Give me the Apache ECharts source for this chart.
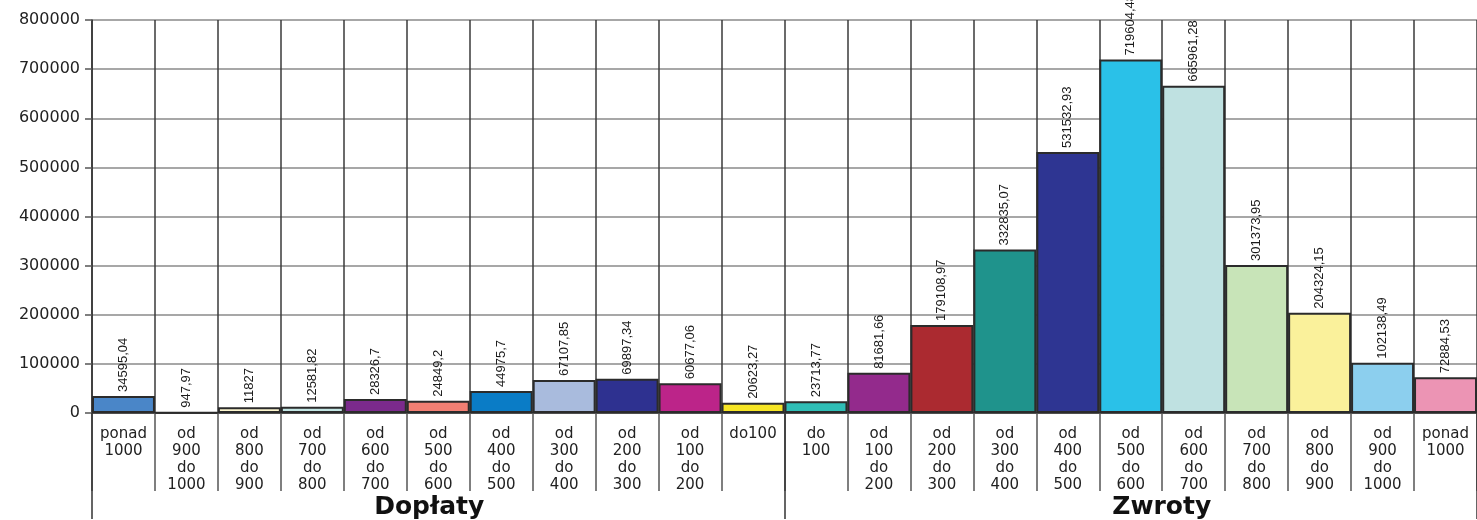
<!DOCTYPE html>
<html>
<head>
<meta charset="utf-8">
<script src="https://cdn.jsdelivr.net/npm/echarts@6/dist/echarts.min.js"></script>
<style>
html,body{margin:0;padding:0;background:#fff;}
#c{width:1477px;height:520px;}
</style>
</head>
<body>
<div id="c"></div>
<script>
// Categories (multi-line labels)
const categories = [
  'ponad\n1000', 'od\n900\ndo\n1000', 'od\n800\ndo\n900', 'od\n700\ndo\n800',
  'od\n600\ndo\n700', 'od\n500\ndo\n600', 'od\n400\ndo\n500', 'od\n300\ndo\n400',
  'od\n200\ndo\n300', 'od\n100\ndo\n200', 'do100',
  'do\n100', 'od\n100\ndo\n200', 'od\n200\ndo\n300', 'od\n300\ndo\n400',
  'od\n400\ndo\n500', 'od\n500\ndo\n600', 'od\n600\ndo\n700', 'od\n700\ndo\n800',
  'od\n800\ndo\n900', 'od\n900\ndo\n1000', 'ponad\n1000'
];
const groups = ['Dopłaty', 'Zwroty'];
const values = [
  34595.04, 947.97, 11827, 12581.82, 28326.7, 24849.2, 44975.7, 67107.85, 69897.34, 60677.06, 20623.27,
  23713.77, 81681.66, 179108.97, 332835.07, 531532.93, 719604.48, 665961.28, 301373.95, 204324.15, 102138.49, 72884.53
];
const colors = [
  '#4a86c8', '#6e6e6e', '#fdf6cf', '#c3e6e4', '#7b2a8c', '#f27f73', '#0a7cc6', '#a9bbdd',
  '#2e3190', '#bc2489', '#f6e524',
  '#2fbeb6', '#932a8c', '#ab2a30', '#1f938c', '#2e3592', '#2ac1e8', '#bfe1e1', '#c8e4b8',
  '#faf19b', '#8ccfee', '#ec94b4'
];
const yMin = 0, yMax = 800000, yStep = 100000;

const chart = echarts.init(document.getElementById('c'));
chart.setOption({
  animation: false,
  backgroundColor: '#ffffff',
  grid: { left: 92, top: 20, width: 1388, height: 394, containLabel: false },
  xAxis: [
    {
      type: 'category',
      data: categories,
      boundaryGap: true,
      axisLine: { show: true, lineStyle: { color: '#333', width: 1.5 } },
      axisTick: { show: true, interval: 0, length: 78, lineStyle: { color: '#555', width: 1.5 } },
      splitLine: { show: true, interval: 0, lineStyle: { color: '#3a3a3a', width: 1.5 } },
      axisLabel: {
        interval: 0, margin: 13, color: '#222',
        fontFamily: 'DejaVu Sans', fontSize: 15, lineHeight: 17, verticalAlign: 'top'
      }
    },
    {
      type: 'category',
      data: [
        { value: groups[0], textStyle: { padding: [0, 18, 0, 0] } },
        { value: groups[1], textStyle: { padding: [0, 0, 0, 62] } }
      ],
      position: 'bottom',
      offset: 0,
      boundaryGap: true,
      axisLine: { show: false },
      axisTick: { show: true, interval: 0, length: 106, lineStyle: { color: '#333', width: 1.5 } },
      splitLine: { show: false },
      axisLabel: {
        interval: 0, margin: 82, color: '#111',
        fontFamily: 'DejaVu Sans', fontWeight: 'bold', fontSize: 25
      }
    }
  ],
  yAxis: {
    type: 'value',
    min: yMin, max: yMax, interval: yStep,
    axisLine: { show: true, lineStyle: { color: '#333', width: 1.5 } },
    axisTick: { show: true, length: 7, lineStyle: { color: '#555', width: 1.5 } },
    splitLine: { show: true, lineStyle: { color: '#8a8a8a', width: 1.5 } },
    axisLabel: {
      margin: 12, color: '#222', fontFamily: 'DejaVu Sans', fontSize: 16,
      formatter: v => String(v)
    }
  },
  series: [{
    type: 'bar',
    xAxisIndex: 0,
    barCategoryGap: '0%',
    data: values.map((v, i) => ({ value: v, itemStyle: { color: colors[i] } })),
    itemStyle: { borderColor: '#2b2b2b', borderWidth: 2 },
    label: {
      show: true,
      position: 'top',
      rotate: 90,
      align: 'left',
      verticalAlign: 'middle',
      distance: 4,
      color: '#1a1a1a',
      fontFamily: '"Liberation Sans", Arial, sans-serif',
      fontSize: 13,
      formatter: p => String(p.value).replace('.', ',')
    }
  }]
});
</script>
</body>
</html>
